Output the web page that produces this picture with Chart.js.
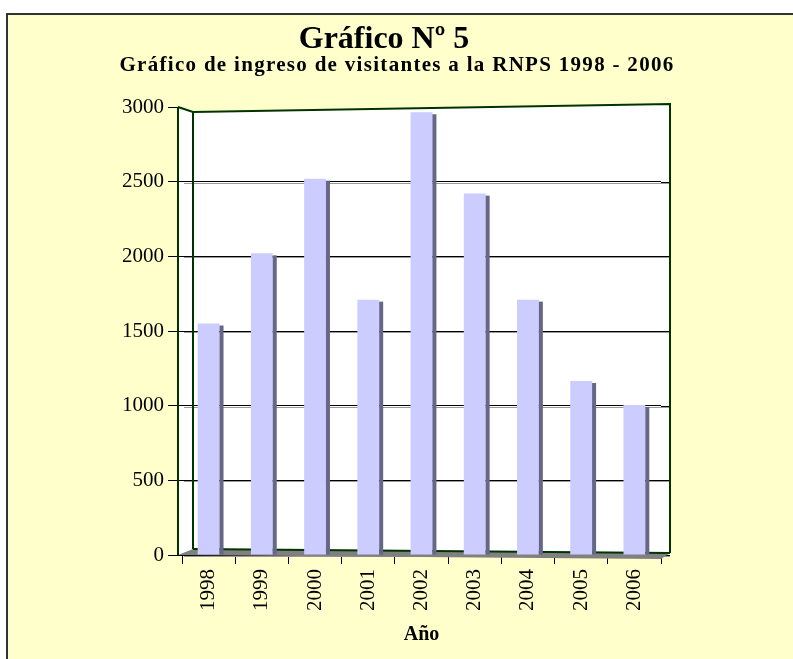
<!DOCTYPE html>
<html>
<head>
    <title>Gráfico Nº 5</title>
    <style type="text/css">
        body {
            margin: 0;
            background: #ffffff;
        }

        #chart-container {
            width: 793px;
            height: 659px;
        }
    </style>
    <script type="text/javascript" src="https://cdn.jsdelivr.net/npm/chart.js@4/dist/chart.umd.min.js"></script>
</head>
<body>
    <div id="chart-container">
        <canvas id="graphCanvas" width="793" height="659"></canvas>
    </div>

    <script>
        // data
        var years = ['1998', '1999', '2000', '2001', '2002', '2003', '2004', '2005', '2006'];
        var visitors = [1550, 2020, 2520, 1710, 2965, 2420, 1710, 1165, 1005];
        var yTicks = [0, 500, 1000, 1500, 2000, 2500, 3000];

        var titleText = 'Gráfico Nº 5';
        var subtitleText = 'Gráfico de ingreso de visitantes a la RNPS 1998 - 2006';

        var serif = "'Liberation Serif', 'Times New Roman', serif";

        // yellow frame, white back wall, grey floor, titles, column sides
        var framePlugin = {
            id: 'frame',
            beforeDraw: function (chart) {
                var ctx = chart.ctx;
                var a = chart.chartArea;
                ctx.save();
                ctx.fillStyle = '#ffffff';
                ctx.fillRect(0, 0, chart.width, chart.height);
                ctx.fillStyle = '#ffffcc';
                ctx.fillRect(7, 14, chart.width, chart.height);
                ctx.strokeStyle = '#333333';
                ctx.lineWidth = 2;
                ctx.strokeRect(7, 14, chart.width + 10, chart.height + 10);

                // back wall
                ctx.fillStyle = '#ffffff';
                ctx.beginPath();
                ctx.moveTo(a.left - 4, a.top);
                ctx.lineTo(a.left + 11, a.top + 5);
                ctx.lineTo(a.right + 9, a.top - 3);
                ctx.lineTo(a.right + 9, a.bottom);
                ctx.lineTo(a.left - 4, a.bottom);
                ctx.closePath();
                ctx.fill();

                // titles
                ctx.fillStyle = '#000000';
                ctx.textAlign = 'center';
                ctx.textBaseline = 'alphabetic';
                ctx.font = 'bold 32px ' + serif;
                ctx.fillText(titleText, 384, 48);
                ctx.font = 'bold 21px ' + serif;
                ctx.letterSpacing = '1.3px';
                ctx.fillText(subtitleText, 397, 71);
                ctx.restore();
            },
            beforeDatasetsDraw: function (chart) {
                var ctx = chart.ctx;
                var a = chart.chartArea;
                var yScale = chart.scales.y;
                ctx.save();
                // gridlines carried on to the right wall edge
                ctx.lineWidth = 1;
                yTicks.forEach(function (v) {
                    if (v === yScale.max) return;
                    var y = Math.round(yScale.getPixelForValue(v)) + 0.5;
                    ctx.strokeStyle = '#000000';
                    ctx.beginPath();
                    ctx.moveTo(a.right, y);
                    ctx.lineTo(a.right + 9, y);
                    ctx.stroke();
                    ctx.strokeStyle = '#999999';
                    ctx.beginPath();
                    ctx.moveTo(a.left + 2, y + 1);
                    ctx.lineTo(a.right + 9, y + 1);
                    ctx.stroke();
                });

                // floor
                ctx.fillStyle = '#808080';
                ctx.beginPath();
                ctx.moveTo(a.left - 4, a.bottom);
                ctx.lineTo(a.left + 11, a.bottom - 6);
                ctx.lineTo(a.right + 9, a.bottom - 2);
                ctx.lineTo(a.right, a.bottom + 4);
                ctx.closePath();
                ctx.fill();
                ctx.strokeStyle = '#003300';
                ctx.lineWidth = 2;
                ctx.beginPath();
                ctx.moveTo(a.left + 11, a.bottom - 6);
                ctx.lineTo(a.right + 9, a.bottom - 2);
                ctx.stroke();

                // wall edges
                ctx.beginPath();
                ctx.moveTo(a.left - 4, a.top);
                ctx.lineTo(a.left + 11, a.top + 5);
                ctx.lineTo(a.right + 9, a.top - 3);
                ctx.lineTo(a.right + 9, a.bottom - 2);
                ctx.moveTo(a.left + 11, a.top + 5);
                ctx.lineTo(a.left + 11, a.bottom - 6);
                ctx.moveTo(a.left - 4, a.top);
                ctx.lineTo(a.left - 4, a.bottom);
                ctx.stroke();
                ctx.restore();
            },
            afterDatasetsDraw: function (chart) {
                // dark side of each column
                var ctx = chart.ctx;
                var meta = chart.getDatasetMeta(0);
                ctx.save();
                ctx.fillStyle = '#666688';
                meta.data.forEach(function (bar) {
                    var right = bar.x + bar.width / 2;
                    ctx.fillRect(right, bar.y + 2, 4, bar.base - bar.y - 2);
                });
                ctx.restore();
            }
        };

        var chartdata = {
            labels: years,
            datasets: [
                {
                    label: 'Visitantes',
                    backgroundColor: '#ccccff',
                    borderWidth: 0,
                    data: visitors,
                    categoryPercentage: 1,
                    barPercentage: 0.41
                }
            ]
        };

        var graphTarget = document.getElementById('graphCanvas');

        var barGraph = new Chart(graphTarget, {
            type: 'bar',
            data: chartdata,
            plugins: [framePlugin],
            options: {
                responsive: false,
                animation: false,
                layout: {
                    padding: { left: 100, right: 132, top: 107, bottom: 8 }
                },
                plugins: {
                    legend: { display: false },
                    tooltip: { enabled: false }
                },
                scales: {
                    x: {
                        grid: {
                            display: true,
                            drawOnChartArea: false,
                            drawTicks: true,
                            tickLength: 9,
                            tickColor: '#000000'
                        },
                        border: { display: false },
                        ticks: {
                            color: '#000000',
                            font: { family: serif, size: 21 },
                            maxRotation: 90,
                            minRotation: 90,
                            padding: 5
                        },
                        title: {
                            display: true,
                            text: 'Año',
                            color: '#000000',
                            font: { family: serif, size: 20, weight: 'bold' },
                            padding: { top: 2, bottom: 4 }
                        },
                        afterFit: function (scale) {
                            scale.height = 96;
                        }
                    },
                    y: {
                        min: 0,
                        max: 3000,
                        afterBuildTicks: function (scale) {
                            scale.ticks = yTicks.map(function (v) { return { value: v }; });
                        },
                        grid: {
                            color: function (c) {
                                return c.tick && c.tick.value === 3000 ? 'rgba(0,0,0,0)' : '#000000';
                            },
                            tickColor: '#000000',
                            tickLength: 14
                        },
                        border: { display: false },
                        ticks: {
                            color: '#000000',
                            font: { family: serif, size: 21 },
                            padding: 4,
                            callback: function (v) { return String(v); }
                        },
                        afterFit: function (scale) {
                            scale.width = 82;
                        }
                    }
                }
            }
        });
    </script>
</body>
</html>
